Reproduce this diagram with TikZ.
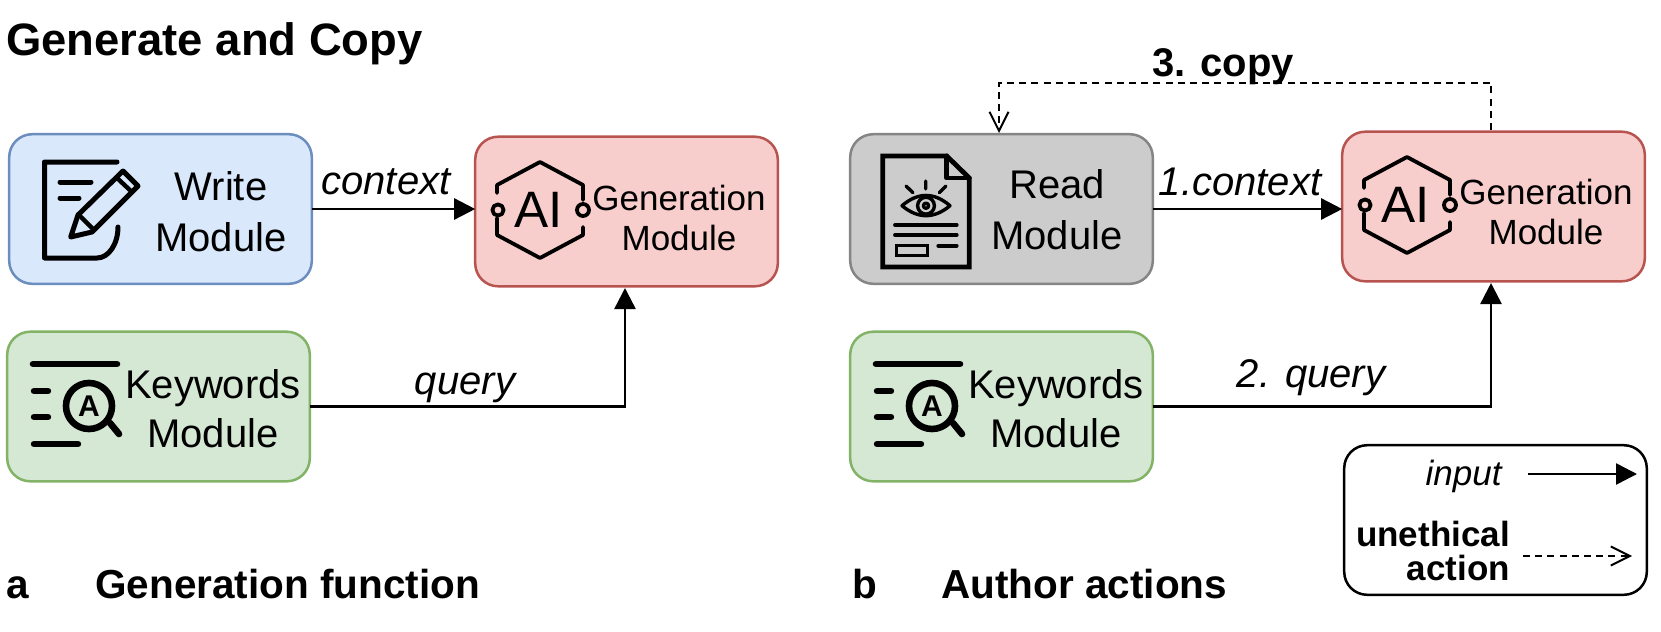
\documentclass[tikz,border=0pt]{standalone}
\usepackage{fontspec}
\setmainfont{Liberation Sans}
\usetikzlibrary{arrows.meta,calc}
\newcommand{\fsz}[1]{\fontsize{#1}{#1}\selectfont}
\tikzset{
  modbox/.style={draw,rounded corners=11.5pt,line width=1.25pt,minimum width=151.3pt,minimum height=74.8pt,outer sep=0pt,inner sep=0pt},
  blueb/.style={modbox,fill=blueF,draw=blueD},
  greenb/.style={modbox,fill=greenF,draw=greenD},
  redb/.style={modbox,fill=redF,draw=redD},
  grayb/.style={modbox,fill=grayF,draw=grayD},
  legendb/.style={modbox,fill=white,draw=black},
  modtext/.style={anchor=center,inner sep=0pt,align=center,font=\fsz{20},text=black},
  gentext/.style={anchor=center,inner sep=0pt,align=center,font=\fsz{17.5},text=black},
  lab/.style={anchor=base,inner sep=0pt,font=\fsz{20}\itshape},
  boldlab/.style={anchor=base west,inner sep=0pt,font=\fsz{20.25}\bfseries},
  solidarrow/.style={line width=1.25pt,-{Triangle[length=10.5pt,width=10.5pt]}},
  dasharrow/.style={line width=1pt,dash pattern=on 3.5pt off 2.6pt,-{Straight Barb[length=9.5pt,width=9.5pt,line width=1pt,sep=0pt]}},
  iconline/.style={line width=#1,line cap=round,line join=round,draw=black},
}
\definecolor{blueF}{HTML}{DAE8FC}\definecolor{blueD}{HTML}{6C8EBF}
\definecolor{greenF}{HTML}{D5E8D4}\definecolor{greenD}{HTML}{82B366}
\definecolor{redF}{HTML}{F8CECC}\definecolor{redD}{HTML}{B85450}
\definecolor{grayF}{HTML}{CCCCCC}\definecolor{grayD}{HTML}{858585}
\newcommand{\kwicon}[1]{%
 \begin{scope}[shift={(#1,0)}]
  \draw[iconline=3.3pt] (33,364)--(117,364);
  \draw[iconline=3.2pt] (34,391)--(48,391) (34,417)--(48,417) (34,444)--(78,444);
  \draw[iconline=3.3pt] (89,406) circle (11.5pt);
  \draw[iconline=3.3pt] (110,423)--(119,434);
  \node[inner sep=0pt,font=\fsz{15}\bfseries] (kwA#1) at (89,406) {A};
 \end{scope}}
\newcommand{\aiicon}[2]{%
 \begin{scope}[shift={(#1,#2)}]
  \draw[iconline=1.9pt] (497,193)--(497,185)--(540,162)--(583,185)--(583,200);
  \draw[iconline=1.9pt] (497,218)--(497,235)--(540,258)--(583,235)--(583,227);
  \draw[iconline=1.9pt] (498,210) circle (2.8pt) (583,210) circle (3pt);
  \node[inner sep=0pt,font=\fsz{25.6}] (ai#1) at (539,210) {AI};
 \end{scope}}
\begin{document}
\begin{tikzpicture}[x=0.5pt,y=-0.5pt]
\useasboundingbox (0,0) rectangle (1661,632);
% boxes
\node[blueb] (w) at (160.5,209) {};
\node[greenb] (k) at (158.5,406.5) {};
\node[redb] (g) at (626.5,211.5) {};
\node[grayb] (r) at (1001.5,209) {};
\node[greenb] (k2) at (1001.5,406.5) {};
\node[redb] (g2) at (1493.5,206.5) {};
\node[legendb] (leg) at (1495.5,520) {};
% box texts
\node[modtext] (wt) at (221,212) {Write\\[5.5pt]Module};
\node[modtext] (kt) at (213,409) {Keywords\\[4.5pt]Module};
\node[gentext] (gt) at (679,218) {Generation\\[2.5pt]Module};
\node[modtext] (rt) at (1057,209.5) {Read\\[5.5pt]Module};
\node[modtext] (kt2) at (1056,409) {Keywords\\[4.5pt]Module};
\node[gentext] (gt2) at (1546,212) {Generation\\[2.5pt]Module};
% write icon
\draw[iconline=2.5pt] (117,162)--(44.5,162)--(44.5,258)--(97,258) arc[start angle=90,end angle=0,x radius=10.5pt,y radius=-15.5pt] ;
\draw[iconline=2.5pt] (60,182)--(91,182) (60,198)--(79,198);
\draw[iconline=2.5pt] (123,171)--(138,186)--(92,232)--(70.7,237)--(78,215)--cycle;
\draw[iconline=2.2pt] (81,217)--(93,229) (117,178)--(132,192);
% keywords icons
\kwicon{0}
\kwicon{843}
% AI icons
\aiicon{0}{0}
\aiicon{867}{-5}
% read icon
\draw[iconline=2.4pt,line join=miter] (882.7,156)--(946.7,156)--(969.3,178)--(969.3,267)--(882.7,267)--cycle;
\draw[iconline=2.4pt] (946.7,156)--(946.7,178)--(969.3,178);
\draw[iconline=1.7pt] (902,205.7) .. controls (918,192) and (934,192) .. (950,205.7) .. controls (934,219) and (918,219) .. (902,205.7)--cycle;
\draw[iconline=1.7pt] (926,205.7) circle (4.2pt) (926,205.7) circle (1.3pt);
\draw[iconline=1.7pt] (925.7,181)--(925.7,189) (906,186)--(913,192.7) (946,186)--(939.3,192.7);
\draw[iconline=1.9pt] (895,225)--(956.7,225) (895,235)--(956.7,235) (938.3,245.7)--(956.7,245.7);
\draw[iconline=1.5pt,line join=miter] (896,245) rectangle (927.3,255.7);
% connector end points
\coordinate (gin) at (625,288);
\coordinate (g2in) at (1491,283);
\coordinate (g2out) at (1491,130);
\coordinate (cpA) at (1491,82.5);
\coordinate (cpB) at (999,82.5);
\coordinate (rin) at (999,133);
\coordinate (la1) at (1528,474);\coordinate (la2) at (1637,474);
\coordinate (lb1) at (1523,556);\coordinate (lb2) at (1632,556);
% connectors
\draw[solidarrow] (w) -- (w -| g.west);
\draw[solidarrow] (k.east) -| (gin);
\draw[solidarrow] (r) -- (r -| g2.west);
\draw[solidarrow] (k2.east) -| (g2in);
\draw[dasharrow] (g2out) -- (cpA) -- (cpB) -- (rin);
\draw[solidarrow] (la1) -- (la2);
\draw[dasharrow] (lb1) -- (lb2);
% labels
\node[boldlab,font=\fsz{22.7}\bfseries] (title) at (6,55) {Generate and Copy};
\node[lab] (l1) at (386,194) {context};
\node[lab] (l2) at (465,394) {query};
\node[lab] (l3) at (1240,195) {1.context};
\node[lab] (l4) at (1311,387) {2. query};
\node[lab,font=\fsz{20}\bfseries] (l5) at (1223,76) {3. copy};
\node[boldlab] (a) at (6,598) {a};
\node[boldlab] (at) at (95,598) {Generation function};
\node[boldlab] (b) at (852,598) {b};
\node[boldlab] (bt) at (941,598) {Author actions};
\node[anchor=base east,inner sep=0pt,font=\fsz{17.5}\itshape] (li) at (1502,485) {input};
\node[anchor=center,inner sep=0pt,align=right,font=\fsz{17.5}\bfseries] (lu) at (1433,551) {unethical\\[-0.5pt]action};
\end{tikzpicture}
\end{document}
